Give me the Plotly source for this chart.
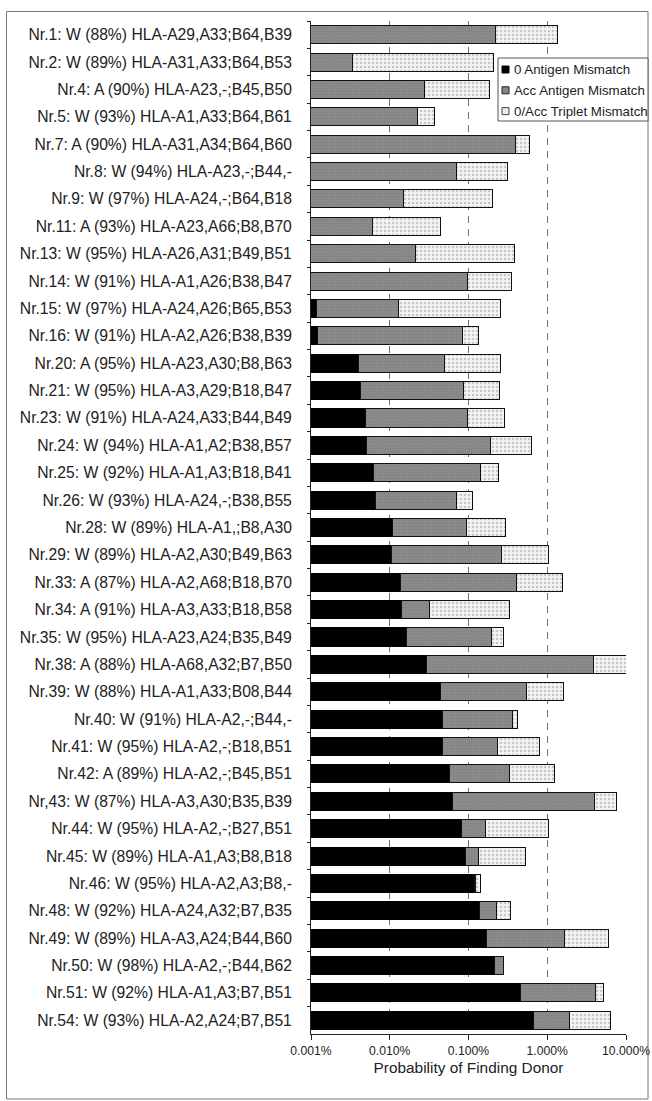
import plotly.graph_objects as go

categories = [
    "Nr.1: W (88%) HLA-A29,A33;B64,B39",
    "Nr.2: W (89%) HLA-A31,A33;B64,B53",
    "Nr.4: A (90%) HLA-A23,-;B45,B50",
    "Nr.5: W (93%) HLA-A1,A33;B64,B61",
    "Nr.7: A (90%) HLA-A31,A34;B64,B60",
    "Nr.8: W (94%) HLA-A23,-;B44,-",
    "Nr.9: W (97%) HLA-A24,-;B64,B18",
    "Nr.11: A (93%) HLA-A23,A66;B8,B70",
    "Nr.13: W (95%) HLA-A26,A31;B49,B51",
    "Nr.14: W (91%) HLA-A1,A26;B38,B47",
    "Nr.15: W (97%) HLA-A24,A26;B65,B53",
    "Nr.16: W (91%) HLA-A2,A26;B38,B39",
    "Nr.20: A (95%) HLA-A23,A30;B8,B63",
    "Nr.21: W (95%) HLA-A3,A29;B18,B47",
    "Nr.23: W (91%) HLA-A24,A33;B44,B49",
    "Nr.24: W (94%) HLA-A1,A2;B38,B57",
    "Nr.25: W (92%) HLA-A1,A3;B18,B41",
    "Nr.26: W (93%) HLA-A24,-;B38,B55",
    "Nr.28: W (89%) HLA-A1,;B8,A30",
    "Nr.29: W (89%) HLA-A2,A30;B49,B63",
    "Nr.33: A (87%) HLA-A2,A68;B18,B70",
    "Nr.34: A (91%) HLA-A3,A33;B18,B58",
    "Nr.35: W (95%) HLA-A23,A24;B35,B49",
    "Nr.38: A (88%) HLA-A68,A32;B7,B50",
    "Nr.39: W (88%) HLA-A1,A33;B08,B44",
    "Nr.40: W (91%) HLA-A2,-;B44,-",
    "Nr.41: W (95%) HLA-A2,-;B18,B51",
    "Nr.42: A (89%) HLA-A2,-;B45,B51",
    "Nr,43: W (87%) HLA-A3,A30;B35,B39",
    "Nr.44: W (95%) HLA-A2,-;B27,B51",
    "Nr.45: W (89%) HLA-A1,A3;B8,B18",
    "Nr.46: W (95%) HLA-A2,A3;B8,-",
    "Nr.48: W (92%) HLA-A24,A32;B7,B35",
    "Nr.49: W (89%) HLA-A3,A24;B44,B60",
    "Nr.50: W (98%) HLA-A2,-;B44,B62",
    "Nr.51: W (92%) HLA-A1,A3;B7,B51",
    "Nr.54: W (93%) HLA-A2,A24;B7,B51",
]

# probabilities in percent (stacked components)
zero_antigen_mm = [0, 0, 0, 0, 0, 0, 0, 0, 0, 0,
                   0.00118, 0.00122, 0.00402, 0.00427, 0.00494, 0.00514, 0.0063, 0.0065, 0.0109, 0.0106,
                   0.01355, 0.0141, 0.0163, 0.0291, 0.044, 0.0466, 0.0466, 0.0571, 0.0625, 0.0805,
                   0.0916, 0.12, 0.1397, 0.168, 0.213, 0.452, 0.662]
acc_antigen_mm = [0.219, 0.0034, 0.0274, 0.0223, 0.398, 0.0697, 0.0149, 0.00612, 0.0215, 0.097,
                  0.0118, 0.0825, 0.0449, 0.082, 0.093, 0.186, 0.134, 0.0632, 0.0824, 0.253,
                  0.388, 0.0179, 0.181, 3.80, 0.506, 0.318, 0.187, 0.273, 3.88, 0.0825,
                  0.0439, 0.003, 0.0878, 1.48, 0.064, 3.65, 1.25]
triplet_mm = [1.14, 0.205, 0.158, 0.0142, 0.203, 0.245, 0.184, 0.0374, 0.365, 0.257,
              0.241, 0.0493, 0.205, 0.163, 0.187, 0.434, 0.099, 0.0438, 0.203, 0.776,
              1.17, 0.298, 0.080, 7.2, 1.035, 0.053, 0.556, 0.90, 3.66, 0.867,
              0.3925, 0.019, 0.116, 4.42, 0, 1.04, 4.46]

series_names = ["0 Antigen Mismatch", "Acc Antigen Mismatch", "0/Acc Triplet Mismatch"]

tick_vals = [0.001, 0.01, 0.1, 1, 10]
tick_text = ["0.001%", "0.010%", "0.100%", "1.000%", "10.000%"]

FONT = "Liberation Sans, Arial, sans-serif"
TXT = "#222222"

fills = [
    dict(color="#000000", line=dict(color="#000000", width=1)),
    dict(color="#878787", line=dict(color="#111111", width=1),
         pattern=dict(shape=".", fgcolor="#747474", bgcolor="#8c8c8c", size=3, solidity=0.4)),
    dict(color="#eeeeee", line=dict(color="#111111", width=1),
         pattern=dict(shape=".", fgcolor="#9a9a9a", bgcolor="#f4f4f4", size=4, solidity=0.35)),
]
legend_sym = [("#000000", "#000000"), ("#878787", "#222222"), ("#eeeeee", "#444444")]

fig = go.Figure()
for name, vals, mk in zip(series_names, [zero_antigen_mm, acc_antigen_mm, triplet_mm], fills):
    fig.add_trace(go.Bar(y=categories, x=vals, orientation="h", name=name,
                         marker=mk, width=0.66, showlegend=False))

W, H = 652, 1101
L, R, T, B = 311, 26, 21, 67
pw, ph = W - L - R, H - T - B


def px_x(x):
    return (x - L) / pw


def px_y(y):
    return 1 - (y - T) / ph


shapes = [dict(
    type="rect", xref="paper", yref="paper",
    x0=px_x(6.5), x1=px_x(648), y0=px_y(1099), y1=px_y(11.5),
    line=dict(color="#777777", width=1), fillcolor="rgba(0,0,0,0)", layer="below",
)]
# legend box
shapes.append(dict(type="rect", xref="paper", yref="paper",
                   x0=px_x(498), x1=px_x(648), y0=px_y(121), y1=px_y(58),
                   line=dict(color="#555555", width=1), fillcolor="white", layer="above"))
annotations = []
for i, (name, (fc, lc)) in enumerate(zip(series_names, legend_sym)):
    yc = 69.5 + i * 20.8
    shapes.append(dict(type="rect", xref="paper", yref="paper",
                       x0=px_x(502), x1=px_x(509), y0=px_y(yc + 3.5), y1=px_y(yc - 3.5),
                       line=dict(color=lc, width=1), fillcolor=fc, layer="above"))
    annotations.append(dict(xref="paper", yref="paper", x=px_x(512), y=px_y(yc),
                            xanchor="left", yanchor="middle", showarrow=False, text=name,
                            font=dict(family=FONT, size=13.3, color=TXT)))

fig.update_layout(
    width=W, height=H,
    barmode="stack",
    paper_bgcolor="white", plot_bgcolor="white",
    margin=dict(l=L, r=R, t=T, b=B, pad=0, autoexpand=False),
    font=dict(family=FONT, size=15.7, color=TXT),
    showlegend=False,
    xaxis=dict(
        type="log", range=[-3, 1],
        tickvals=tick_vals, ticktext=tick_text,
        showgrid=True, gridcolor="#707070", griddash="7px,6px", gridwidth=1,
        showline=True, linecolor=TXT, linewidth=1,
        ticks="outside", ticklen=5, tickcolor=TXT,
        ticklabeloverflow="allow",
        tickfont=dict(family=FONT, size=12.2, color=TXT),
        zeroline=False,
        title=dict(text="Probability of Finding Donor", standoff=5,
                   font=dict(family=FONT, size=15.4, color=TXT)),
    ),
    yaxis=dict(
        autorange="reversed",
        showline=True, linecolor=TXT, linewidth=1,
        ticks="outside", ticklen=3, tickcolor=TXT, tickson="boundaries",
        ticklabelstandoff=15,
        tickfont=dict(family=FONT, size=15.7, color=TXT),
        showgrid=False,
    ),
    shapes=shapes,
    annotations=annotations,
)

fig.write_html("out.html", config={"displayModeBar": False},
               post_script="document.body.style.margin='0';document.body.style.overflow='hidden';")
